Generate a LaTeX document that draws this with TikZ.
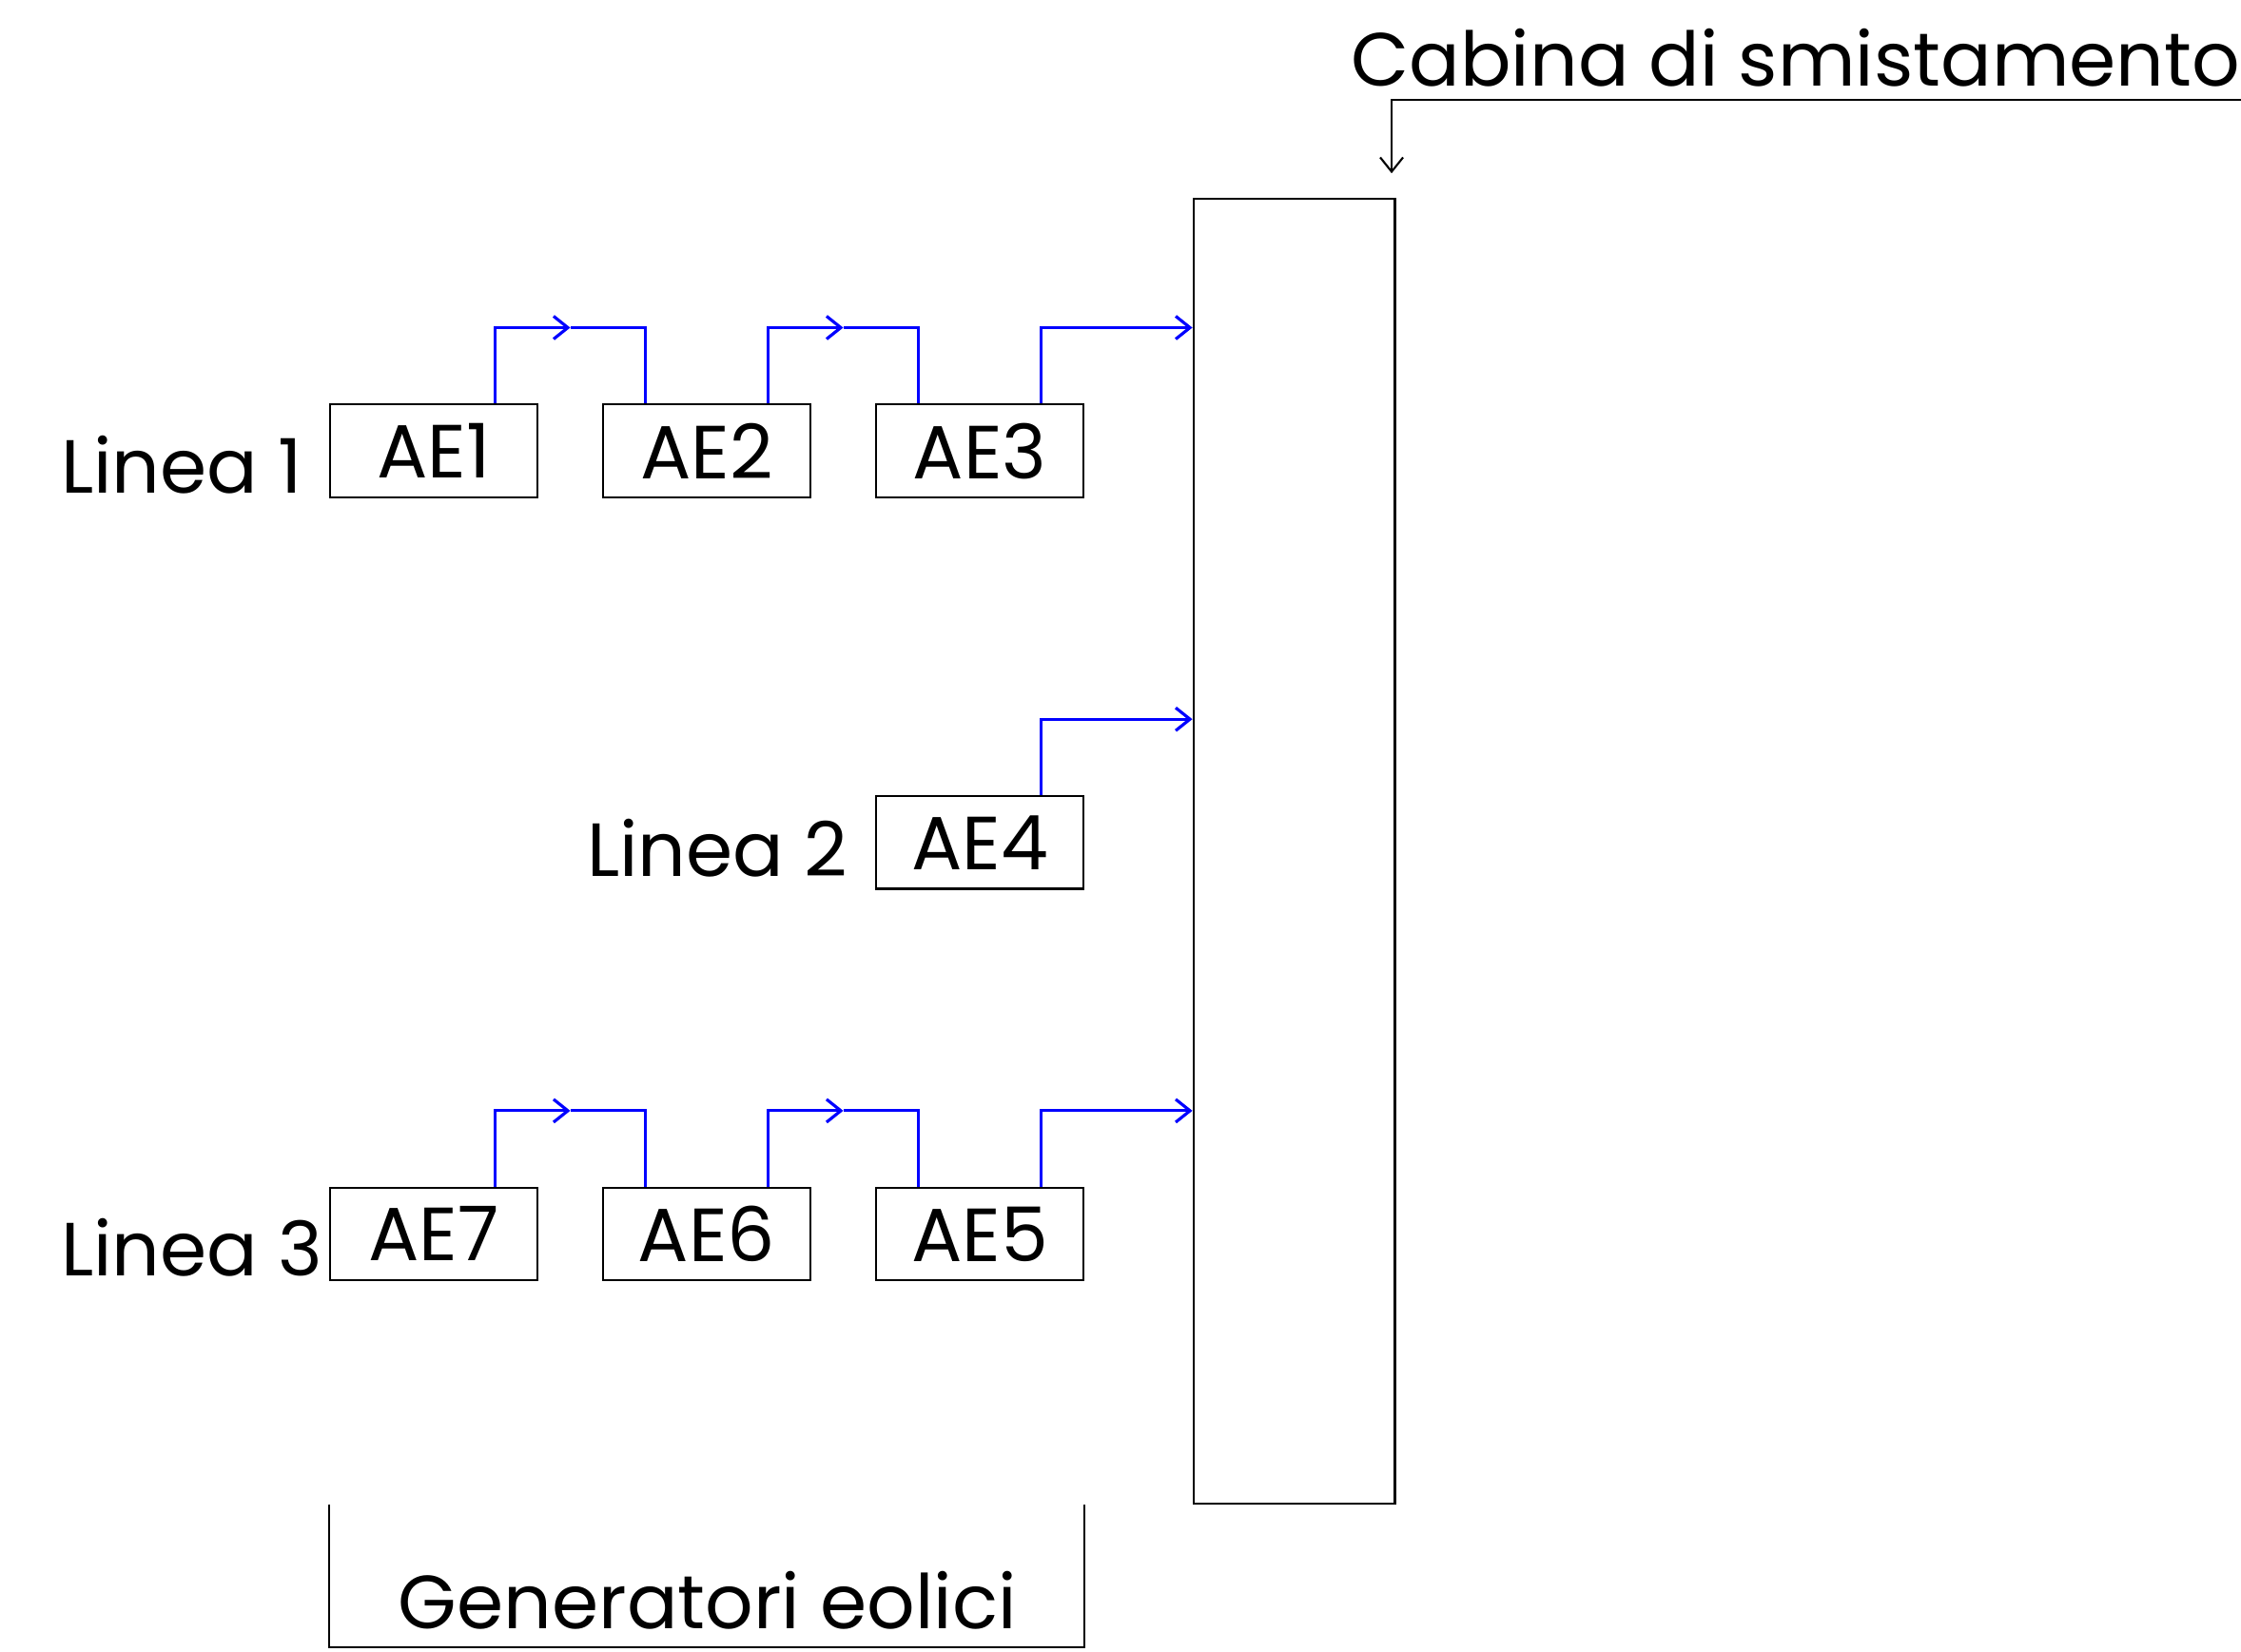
\documentclass[tikz,border=0pt]{standalone}
\usepackage{fontspec}
\setmainfont{Poppins}
\usetikzlibrary{calc,arrows.meta}
\tikzset{>={Straight Barb[length=1mm,width=1.6mm]}}

\begin{document}
\begin{tikzpicture}[
    gen/.style={draw,line width=0.4pt,minimum width=1.45cm,minimum height=0.65cm,inner sep=0pt,font=\fontsize{15}{18}\selectfont},
    lbl/.style={inner sep=0pt,font=\fontsize{15}{18}\selectfont},
    wire/.style={blue,line width=0.6pt}]
      \useasboundingbox (0,0) rectangle (15.68,11.56);
      \node[draw,line width=0.4pt,minimum width=1.41cm,minimum height=9.13cm] (cabina) at (9.055,5.605) {};
      \node[gen] (ae1) at (3.035,8.405) {AE1};
      \node[gen] (ae2) at (4.945,8.405) {AE2};
      \node[gen] (ae3) at (6.855,8.405) {AE3};
      \node[gen] (ae4) at (6.855,5.665) {AE4};
      \node[gen] (ae7) at (3.035,2.925) {AE7};
      \node[gen] (ae6) at (4.945,2.925) {AE6};
      \node[gen] (ae5) at (6.855,2.925) {AE5};
      \node[lbl,anchor=base west] (linea1) at (0.42,8.11) {Linea 1};
      \node[lbl,anchor=base west] (linea2) at (4.10,5.43) {Linea 2};
      \node[lbl,anchor=base west] (linea3) at (0.42,2.63) {Linea 3};
      \node[lbl,anchor=base east] (titolo) at (15.68,10.96) {Cabina di smistamento};
      \node[lbl,anchor=base] (generatori) at (4.95,0.16) {Generatori eolici};
      \coordinate (m12) at ($(ae1.north)!0.5!(ae2.north)+(0,0.53)$);
      \coordinate (m23) at ($(ae2.north)!0.5!(ae3.north)+(0,0.53)$);
      \coordinate (m76) at ($(ae7.north)!0.5!(ae6.north)+(0,0.53)$);
      \coordinate (m65) at ($(ae6.north)!0.5!(ae5.north)+(0,0.53)$);
      \coordinate (t3) at ($(ae3.north)+(0.43,0.53)$);
      \coordinate (t4) at ($(ae4.north)+(0.43,0.53)$);
      \coordinate (t5) at ($(ae5.north)+(0.43,0.53)$);
      \draw[wire,->] ($(ae1.north)+(0.43,0)$) |- (m12);
      \draw[wire] (m12) -| ($(ae2.north)+(-0.43,0)$);
      \draw[wire,->] ($(ae2.north)+(0.43,0)$) |- (m23);
      \draw[wire] (m23) -| ($(ae3.north)+(-0.43,0)$);
      \draw[wire,->] ($(ae3.north)+(0.43,0)$) -- (t3) -- (cabina.west |- t3);
      \draw[wire,->] ($(ae4.north)+(0.43,0)$) -- (t4) -- (cabina.west |- t4);
      \draw[wire,->] ($(ae7.north)+(0.43,0)$) |- (m76);
      \draw[wire] (m76) -| ($(ae6.north)+(-0.43,0)$);
      \draw[wire,->] ($(ae6.north)+(0.43,0)$) |- (m65);
      \draw[wire] (m65) -| ($(ae5.north)+(-0.43,0)$);
      \draw[wire,->] ($(ae5.north)+(0.43,0)$) -- (t5) -- (cabina.west |- t5);
      \coordinate (cab) at (15.68,10.86);
      \draw[line width=0.4pt,->] (cab) -| ($(cabina.north east)+(-0.03,0.17)$);
      \draw[line width=0.4pt] (ae7.west |- cabina.south) -- ++(0,-1) -| (ae5.east |- cabina.south);
    \end{tikzpicture}
\end{document}
